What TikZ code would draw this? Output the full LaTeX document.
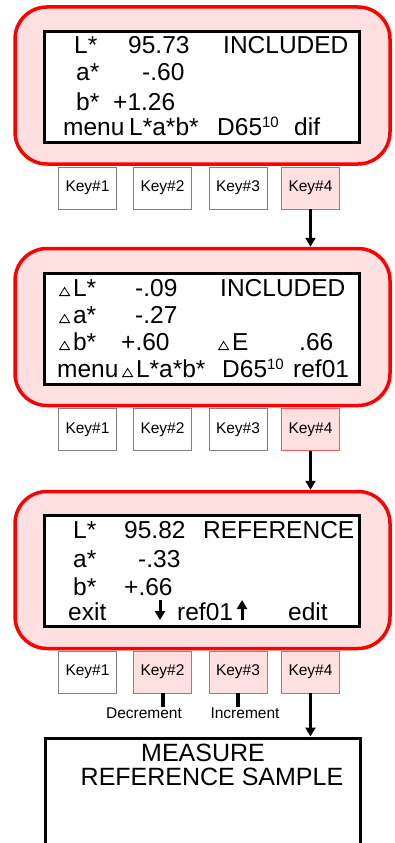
\documentclass[tikz,border=0pt]{standalone}
\usepackage{fontspec}
\setmainfont{Liberation Sans}
\usetikzlibrary{arrows.meta,positioning}
\definecolor{pinkbg}{RGB}{255,224,224}
\definecolor{keyred}{RGB}{240,90,90}
\providecommand{\lcdfont}{\fontsize{24.5}{29}\selectfont}
\providecommand{\keyfont}{\fontsize{15.5}{18}\selectfont}
\providecommand{\dlt}{\tikz[baseline=0pt]\draw[line width=0.8pt, line join=miter]
  (0pt,0.4pt) -- (10pt,0.4pt) -- (5pt,8.5pt) -- cycle;\hspace{3pt}}
\providecommand{\tenup}{\raisebox{7.5pt}{\fontsize{15}{15}\selectfont 10}}

\begin{document}
\begin{tikzpicture}[x=1pt,y=-1pt,
  panel/.style={draw=red, fill=pinkbg, line width=3.5pt, rounded corners=32pt,
    minimum width=375pt, minimum height=157pt},
  lcd/.style={draw=black, fill=white, line width=3pt,
    minimum width=315pt, minimum height=111pt},
  key/.style={draw=gray, fill=white, line width=0.8pt, inner sep=0pt,
    minimum width=58pt, minimum height=42pt, font=\keyfont},
  keyon/.style={key, draw=keyred, fill=pinkbg},
  txt/.style={anchor=base west, inner sep=0pt, font=\lcdfont},
  arr/.style={line width=3pt, -{Triangle[width=10pt,length=9pt]}}]
\useasboundingbox (0,0) rectangle (395,843);

% Panels
\node[panel] (p1) at (202.5,85.5) {};
\node[lcd]   (d1) at (202,87) {};
\node[panel] (p2) at (202.5,327) {};
\node[lcd]   (d2) at (202,329) {};
\node[panel] (p3) at (202.5,570) {};
\node[lcd]   (d3) at (202,571) {};

% Keys
\node[key]   (k11) at (87.5,188) {Key\#1};
\node[key]   (k12) at (162.5,188) {Key\#2};
\node[key]   (k13) at (238,188) {Key\#3};
\node[keyon] (k14) at (310.5,188) {Key\#4};
\node[key]   (k21) at (87.5,429.5) {Key\#1};
\node[key]   (k22) at (162.5,429.5) {Key\#2};
\node[key]   (k23) at (238,429.5) {Key\#3};
\node[keyon] (k24) at (310.5,429.5) {Key\#4};
\node[key]   (k31) at (87.5,672) {Key\#1};
\node[keyon] (k32) at (162.5,672) {Key\#2};
\node[keyon] (k33) at (238,672) {Key\#3};
\node[keyon] (k34) at (310.5,672) {Key\#4};

% Display 1
\node[txt] (l1a) at (74,54) {L*};
\node[txt] (v1a) at (128,54) {95.73};
\node[txt] (s1)  at (223,54) {INCLUDED};
\node[txt] (l1b) at (76,81) {a*};
\node[txt] (v1b) at (142,81) {-.60};
\node[txt] (l1c) at (76,110) {b*};
\node[txt] (v1c) at (113,110) {+1.26};
\node[txt] (m1a) at (63,135) {menu};
\node[txt] (m1b) at (129,135) {L*a*b*};
\node[txt] (m1c) at (217,135) {D65\tenup};
\node[txt] (m1d) at (294,135) {dif};

% Display 2
\node[txt] (l2a) at (59,296) {\dlt L*};
\node[txt] (v2a) at (135,296) {-.09};
\node[txt] (s2)  at (220,296) {INCLUDED};
\node[txt] (l2b) at (59,323) {\dlt a*};
\node[txt] (v2b) at (135,323) {-.27};
\node[txt] (l2c) at (59,350) {\dlt b*};
\node[txt] (v2c) at (121,350) {+.60};
\node[txt] (l2d) at (218,350) {\dlt E};
\node[txt] (v2d) at (299,350) {.66};
\node[txt] (m2a) at (57,377) {menu};
\node[txt] (m2b) at (122,377) {\dlt L*a*b*};
\node[txt] (m2c) at (222,377) {D65\tenup};
\node[txt] (m2d) at (293,377) {ref01};

% Display 3
\node[txt] (l3a) at (73,538) {L*};
\node[txt] (v3a) at (124,538) {95.82};
\node[txt] (s3)  at (203,538) {REFERENCE};
\node[txt] (l3b) at (73,567) {a*};
\node[txt] (v3b) at (138,567) {-.33};
\node[txt] (l3c) at (73,595) {b*};
\node[txt] (v3c) at (124,595) {+.66};
\node[txt] (m3a) at (68,620) {exit};
\node[txt] (m3b) at (177,620) {ref01};
\node[txt] (m3c) at (288,620) {edit};
\coordinate (dn) at (160,600);
\coordinate (up) at (242,620);
\draw[line width=3pt, -{Triangle[width=10pt,length=9pt]}] (dn) -- ++(0,20);
\draw[line width=3pt, -{Triangle[width=10pt,length=9pt]}] (up) -- ++(0,-20);

% Key labels
\node[font=\keyfont, anchor=base, inner sep=0pt] (dec) at (144,718) {Decrement};
\node[font=\keyfont, anchor=base, inner sep=0pt] (inc) at (245,718) {Increment};
\draw[line width=4pt] (k32.south) -- (k32.south |- dec.north);
\draw[line width=4pt] (k33.south) -- (k33.south |- inc.north);

% Measure box
\node[lcd, minimum height=200pt, anchor=north] (meas) at (202.5,736.5) {};
\node[font=\fontsize{25}{24}\selectfont, align=center, anchor=north, inner sep=0pt]
  (meastxt) at (212,744) {\hspace*{-18pt}MEASURE\\REFERENCE SAMPLE};

% Connect the nodes
\draw[arr] (k14.south) -- (k14.south |- p2.north);
\draw[arr] (k24.south) -- (k24.south |- p3.north);
\draw[arr] (k34.south) -- (k34.south |- meas.north);

\end{tikzpicture}
\end{document}
